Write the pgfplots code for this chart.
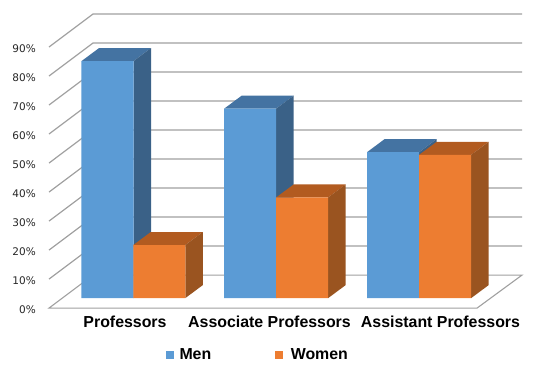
\documentclass[border=0pt]{standalone}
\usepackage{pgfplots}
\pgfplotsset{compat=1.18}
\usepackage{fontspec}
\setmainfont{Liberation Sans}
\newfontfamily\dejavu{DejaVu Sans}
\definecolor{mfront}{HTML}{5B9BD5}
\definecolor{mtop}{HTML}{4473A2}
\definecolor{mside}{HTML}{3A6187}
\definecolor{wfront}{HTML}{ED7D31}
\definecolor{wtop}{HTML}{B25B20}
\definecolor{wside}{HTML}{9A5420}
\definecolor{gridc}{HTML}{A0A0A0}
\begin{document}
\begin{tikzpicture}
\begin{axis}[
  scale only axis, width=473pt, height=294.11pt,
  xmin=49, xmax=522, ymin=-3.45, ymax=97.93,
  clip=false,
  axis line style={draw=none}, tick style={draw=none}, major tick length=0pt,
  xtick={125,269.5,440.5},
  xticklabels={Professors,Associate Professors,Assistant Professors},
  xticklabel style={anchor=base, yshift=-19pt, font=\fontsize{15.9}{18}\selectfont\bfseries, text=black},
  ytick={-3.45,6.55,16.55,26.55,36.55,46.55,56.55,66.55,76.55,86.55},
  yticklabels={0\%,10\%,20\%,30\%,40\%,50\%,60\%,70\%,80\%,90\%},
  yticklabel style={anchor=east, inner sep=0pt, xshift=-13pt, yshift=-1.5pt, font=\dejavu\fontsize{10.5}{12}\selectfont, text=black!85},
  legend columns=2,
  legend style={at={(axis cs:166,-19.66)}, anchor=west, draw=none, fill=none, inner sep=0pt, outer sep=0pt,
    font=\fontsize{15.9}{18}\selectfont\bfseries, /tikz/column sep=0pt},
  legend cell align=left,
]
\path (axis cs:0,102.76) rectangle (axis cs:538,-26.9);
% walls
\addplot[gridc, line width=1.2pt, forget plot] coordinates {(49,6.55)(93,17.93)(522,17.93)};
\addplot[gridc, line width=1.2pt, forget plot] coordinates {(49,16.55)(93,27.93)(522,27.93)};
\addplot[gridc, line width=1.2pt, forget plot] coordinates {(49,26.55)(93,37.93)(522,37.93)};
\addplot[gridc, line width=1.2pt, forget plot] coordinates {(49,36.55)(93,47.93)(522,47.93)};
\addplot[gridc, line width=1.2pt, forget plot] coordinates {(49,46.55)(93,57.93)(522,57.93)};
\addplot[gridc, line width=1.2pt, forget plot] coordinates {(49,56.55)(93,67.93)(522,67.93)};
\addplot[gridc, line width=1.2pt, forget plot] coordinates {(49,66.55)(93,77.93)(522,77.93)};
\addplot[gridc, line width=1.2pt, forget plot] coordinates {(49,76.55)(93,87.93)(522,87.93)};
\addplot[gridc, line width=1.2pt, forget plot] coordinates {(49,86.55)(93,97.93)(522,97.93)};
% floor
\addplot[gridc, line width=1.1pt, forget plot] coordinates {(93,7.93)(522,7.93)(477,-3.45)(49,-3.45)(93,7.93)};
% men tops and sides
\addplot[fill=mtop, draw=none, forget plot] coordinates {(81.5,81.7)(133.5,81.7)(151,86.18)(99,86.18)} --cycle;
\addplot[fill=mside, draw=none, forget plot] coordinates {(133.5,0)(151,4.48)(151,86.18)(133.5,81.7)} --cycle;
\addplot[fill=mtop, draw=none, forget plot] coordinates {(224.15,65.3)(276.15,65.3)(293.65,69.78)(241.65,69.78)} --cycle;
\addplot[fill=mside, draw=none, forget plot] coordinates {(276.15,0)(293.65,4.48)(293.65,69.78)(276.15,65.3)} --cycle;
\addplot[fill=mtop, draw=none, forget plot] coordinates {(367,50.3)(419,50.3)(436.5,54.78)(384.5,54.78)} --cycle;
\addplot[fill=mside, draw=none, forget plot] coordinates {(419,0)(436.5,4.48)(436.5,54.78)(419,50.3)} --cycle;
% men fronts
\addplot[ybar, bar shift=0pt, bar width=52pt, fill=mfront, draw=none,
  legend image code/.code={\fill[mfront] (0pt,-3.8pt) rectangle (7.5pt,3.8pt);}]
  coordinates {(107.5,81.7)(250.15,65.3)(393,50.3)};
\addlegendentry{\hspace*{4pt}Men\hspace*{62pt}}
% women tops and sides
\addplot[fill=wtop, draw=none, forget plot] coordinates {(133.3,18.3)(185.3,18.3)(202.8,22.78)(150.8,22.78)} --cycle;
\addplot[fill=wside, draw=none, forget plot] coordinates {(185.3,0)(202.8,4.48)(202.8,22.78)(185.3,18.3)} --cycle;
\addplot[fill=wtop, draw=none, forget plot] coordinates {(276.15,34.7)(328.15,34.7)(345.65,39.18)(293.65,39.18)} --cycle;
\addplot[fill=wside, draw=none, forget plot] coordinates {(328.15,0)(345.65,4.48)(345.65,39.18)(328.15,34.7)} --cycle;
\addplot[fill=wtop, draw=none, forget plot] coordinates {(419.15,49.4)(471.15,49.4)(488.65,53.88)(436.65,53.88)} --cycle;
\addplot[fill=wside, draw=none, forget plot] coordinates {(471.15,0)(488.65,4.48)(488.65,53.88)(471.15,49.4)} --cycle;
% women fronts
\addplot[ybar, bar shift=0pt, bar width=52pt, fill=wfront, draw=none,
  legend image code/.code={\fill[wfront] (0pt,-3.8pt) rectangle (7.5pt,3.8pt);}]
  coordinates {(159.3,18.3)(302.15,34.7)(445.15,49.4)};
\addlegendentry{\hspace*{6pt}Women}
\end{axis}
\end{tikzpicture}
\end{document}
